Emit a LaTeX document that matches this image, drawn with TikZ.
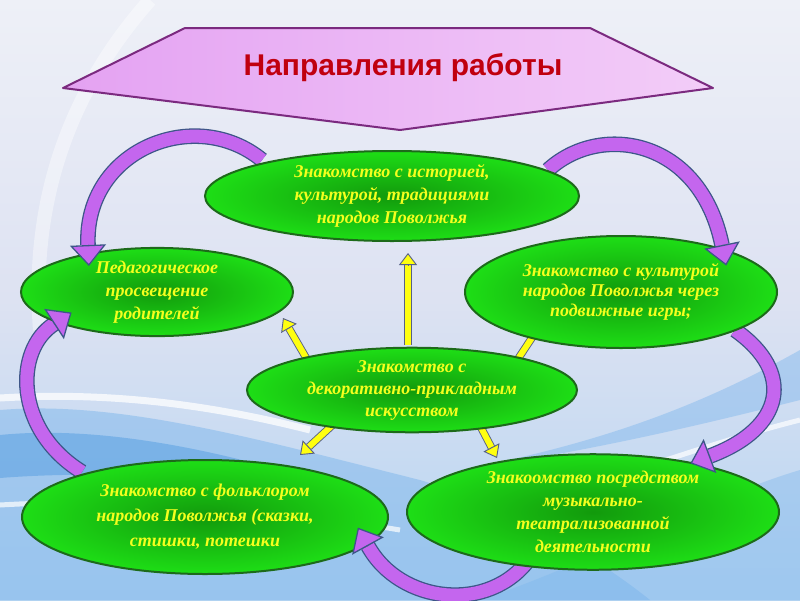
\documentclass[tikz,border=0pt]{standalone}
\usepackage{fontspec}
\setmainfont{Liberation Serif}
\newfontfamily\titlefont{Liberation Sans}
\usetikzlibrary{shapes.geometric,arrows.meta,calc}
\definecolor{bgtop}{HTML}{EEF0F7}
\definecolor{bgmid}{HTML}{DDE2F2}
\definecolor{bgbot}{HTML}{B4D4F2}
\definecolor{wblue}{HTML}{7DB6EC}
\definecolor{wdeep}{HTML}{4A98E0}
\definecolor{gdark}{HTML}{129A0C}
\definecolor{glight}{HTML}{1FE617}
\definecolor{gborder}{HTML}{1D6A1A}
\definecolor{tyellow}{HTML}{F4FF1E}
\definecolor{pfill}{HTML}{C466EE}
\definecolor{pborder}{HTML}{3D5688}
\definecolor{yfill}{HTML}{FFFF10}
\definecolor{yborder}{HTML}{566088}
\definecolor{pentL}{HTML}{E4A2F2}
\definecolor{pentR}{HTML}{F3CDF8}
\definecolor{pentB}{HTML}{7B2A7F}
\definecolor{titlered}{HTML}{C0000F}
\pgfdeclareradialshading{ellshade}{\pgfpoint{0bp}{0bp}}{color(0bp)=(gdark); color(28bp)=(glight); color(50bp)=(glight)}
\newcommand\yarr[2]{\draw[ybody] (#1) -- ($(#2)!12pt!(#1)$);\draw[yhead] ($(#2)!12pt!(#1)$) -- (#2);}
\newcommand\pbodypath[4]{\draw[pbody] (#1) .. controls (#2) and (#3) .. (#4);}
\newcommand\pheadpath[2]{\draw[phead] (#2) -- ($(#2)!-21pt!(#1)$);}
\begin{document}
\begin{tikzpicture}[x=1pt,y=-1pt,
  ell/.style={ellipse, draw=gborder, line width=2pt, shading=ellshade, text=tyellow, align=center,
    font=\fontsize{18}{23}\selectfont\bfseries\itshape, inner sep=0pt},
  ybody/.style={draw=yborder, line width=0.9pt, double=yfill, double distance=6pt},
  yhead/.style={draw=yborder, line width=0.9pt, -{Triangle[width=18pt,length=12pt,fill=yfill]}},
  pbody/.style={draw=pborder, line width=1.3pt, double=pfill, double distance=13pt},
  phead/.style={draw=pborder, line width=1.3pt, -{Triangle[width=36pt,length=21pt,fill=pfill]}}]
\useasboundingbox (0,0) rectangle (800,600);
% background
\shade[top color=bgtop, bottom color=bgbot, middle color=bgmid] (0,0) rectangle (800,600);
\draw[white, line width=14pt, opacity=.4] (150,0) .. controls (70,90) and (30,200) .. (40,330);
\fill[wblue, opacity=.5] (0,410) .. controls (120,400) and (260,440) .. (420,480) .. controls (520,510) and (600,560) .. (650,600) -- (0,600) -- cycle;
\fill[wdeep, opacity=.45] (0,435) .. controls (100,425) and (220,450) .. (330,485) .. controls (220,478) and (100,470) .. (0,478) -- cycle;
\draw[white, line width=7pt, opacity=.75] (0,398) .. controls (100,392) and (200,402) .. (310,430);
\draw[white, line width=5pt, opacity=.7] (0,505) .. controls (120,498) and (250,505) .. (400,530);
\fill[wblue, opacity=.45] (800,350) .. controls (720,395) and (620,440) .. (460,470) .. controls (600,450) and (720,420) .. (800,400) -- cycle;
\fill[wblue, opacity=.4] (800,470) .. controls (700,500) and (600,560) .. (480,600) -- (800,600) -- cycle;
\draw[white, line width=5pt, opacity=.7] (800,420) .. controls (720,440) and (640,470) .. (540,500);
% title pentagon
\coordinate (p1) at (185,28); \coordinate (p2) at (590,28); \coordinate (p3) at (713,88);
\coordinate (p4) at (400,130); \coordinate (p5) at (63,88);
\shade[left color=pentL, right color=pentR] (p1) -- (p2) -- (p3) -- (p4) -- (p5) -- cycle;
\draw[pentB, line width=2pt, line join=round] (p1) -- (p2) -- (p3) -- (p4) -- (p5) -- cycle;
\node[font=\titlefont\fontsize{30}{34}\selectfont\bfseries, text=titlered] (title) at (403,68) {Направления работы};
% yellow arrows
\coordinate (yu0) at (408,345); \coordinate (yu1) at (408,253);
\coordinate (yl0) at (312,368); \coordinate (yl1) at (283,318);
\coordinate (yr0) at (512,368); \coordinate (yr1) at (545,318);
\coordinate (ydl0) at (338,420); \coordinate (ydl1) at (300,455);
\coordinate (ydr0) at (476,418); \coordinate (ydr1) at (497,458);
\yarr{yu0}{yu1}
\yarr{yl0}{yl1}
\yarr{yr0}{yr1}
\yarr{ydl0}{ydl1}
\yarr{ydr0}{ydr1}
% purple arrow bodies
\coordinate (a0) at (262,160); \coordinate (a1) at (195,105); \coordinate (a2) at (84,150); \coordinate (a3) at (88,245);
\coordinate (b0) at (548,170); \coordinate (b1) at (600,122); \coordinate (b2) at (700,138); \coordinate (b3) at (722,245);
\coordinate (c0) at (735,330); \coordinate (c1) at (795,372); \coordinate (c2) at (785,428); \coordinate (c3) at (710,456);
\coordinate (d0) at (530,558); \coordinate (d1) at (490,614); \coordinate (d2) at (400,604); \coordinate (d3) at (368,546);
\coordinate (e0) at (82,472); \coordinate (e1) at (14,430); \coordinate (e2) at (14,350); \coordinate (e3) at (54,324);
\pbodypath{a0}{a1}{a2}{a3}
\pbodypath{b0}{b1}{b2}{b3}
\pbodypath{c0}{c1}{c2}{c3}
\pbodypath{d0}{d1}{d2}{d3}
\pbodypath{e0}{e1}{e2}{e3}
% ellipses
\node[ell, minimum width=374pt, minimum height=90pt] (hist) at (392,196) {Знакомство с историей,\\культурой, традициями\\народов Поволжья};
\node[ell, minimum width=272pt, minimum height=80pt] (ped) at (157,292) {Педагогическое\\просвещение\\родителей};
\node[ell, minimum width=312pt, minimum height=112pt, font=\fontsize{18}{20}\selectfont\bfseries\itshape] (games) at (621,292) {Знакомство с культурой\\народов Поволжья через\\подвижные игры;};
\node[ell, minimum width=330pt, minimum height=80pt, font=\fontsize{18}{22}\selectfont\bfseries\itshape] (deco) at (412,390) {Знакомство с\\декоративно-прикладным\\искусством};
\node[ell, minimum width=366pt, minimum height=114pt, font=\fontsize{18}{25}\selectfont\bfseries\itshape] (folk) at (205,517) {Знакомство с фольклором\\народов Поволжья (сказки,\\стишки, потешки};
\node[ell, minimum width=372pt, minimum height=110pt] (music) at (593,512) {Знакоомство посредством\\музыкально-\\театрализованной\\деятельности};
% purple arrow heads
\pheadpath{a2}{a3}
\pheadpath{b2}{b3}
\pheadpath{c2}{c3}
\pheadpath{d2}{d3}
\pheadpath{e2}{e3}
\end{tikzpicture}
\end{document}
